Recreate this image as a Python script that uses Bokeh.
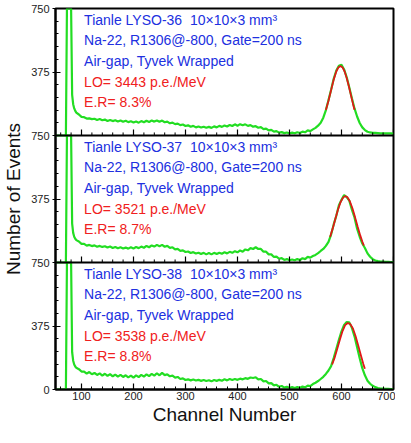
from bokeh.plotting import figure
from bokeh.models import Range1d, FixedTicker, Label, Span
from bokeh.embed import file_html
from bokeh.resources import INLINE

# ---------------- data ----------------
channels = [50, 60, 70, 72, 74, 76, 78, 80, 82, 84, 86, 88, 90] + list(range(95, 701, 5))

counts_lyso36 = [
    0, 0, 0, 900, 2000, 2000, 1600, 1100, 240, 185, 160, 145, 135,
    124, 110, 108, 100, 101, 97, 99, 92, 97, 90,
    94, 86, 92, 85, 90, 83, 89, 81, 87, 79,
    84, 77, 83, 76, 85, 78, 87, 80, 88, 82,
    89, 81, 88, 78, 82, 72, 76, 67, 70, 61,
    65, 56, 60, 52, 57, 48, 53, 47, 52, 46,
    51, 45, 54, 48, 57, 51, 59, 53, 62, 56,
    66, 58, 67, 60, 66, 57, 61, 52, 55, 46,
    49, 38, 41, 30, 33, 23, 26, 17, 20, 14,
    18, 12, 17, 13, 19, 15, 23, 19, 30, 26,
    36, 45, 58, 75, 105, 150, 210, 270, 335, 384,
    412, 418, 390, 344, 284, 220, 160, 112, 74, 48,
    32, 22, 18, 16, 15, 14, 13, 13, 12, 12,
    12, 11,
]
counts_lyso37 = [
    0, 0, 0, 800, 2000, 2000, 1500, 1000, 230, 175, 152, 140, 132,
    124, 110, 110, 100, 104, 97, 101, 93, 98, 92,
    96, 88, 94, 86, 92, 84, 90, 83, 88, 82,
    90, 83, 91, 85, 94, 87, 98, 90, 101, 94,
    104, 96, 104, 93, 98, 86, 90, 78, 80, 69,
    72, 62, 65, 56, 61, 53, 58, 50, 57, 48,
    56, 48, 57, 50, 58, 52, 60, 54, 63, 57,
    67, 60, 71, 64, 77, 72, 85, 80, 90, 80,
    80, 64, 64, 48, 48, 33, 35, 22, 26, 15,
    20, 13, 18, 13, 20, 15, 25, 20, 33, 29,
    38, 45, 55, 68, 80, 98, 122, 165, 225, 276,
    338, 370, 398, 386, 365, 312, 266, 200, 152, 112,
    86, 54, 34, 20, 12, 8, 6, 5, 4, 4,
    3, 3,
]
counts_lyso38 = [
    0, 0, 0, 850, 2000, 2000, 1400, 900, 220, 170, 148, 136, 128,
    120, 106, 106, 94, 103, 90, 98, 86, 95, 82,
    93, 80, 91, 78, 88, 76, 86, 74, 84, 72,
    82, 70, 83, 73, 86, 76, 89, 79, 92, 82,
    96, 84, 98, 85, 90, 78, 82, 70, 74, 62,
    66, 56, 60, 54, 59, 53, 57, 51, 56, 50,
    55, 48, 56, 51, 57, 52, 60, 54, 62, 56,
    62, 57, 64, 60, 67, 63, 71, 68, 72, 60,
    62, 48, 50, 36, 38, 24, 28, 16, 21, 11,
    16, 9, 14, 9, 14, 10, 17, 13, 23, 20,
    32, 40, 50, 62, 75, 92, 112, 138, 185, 239,
    294, 343, 381, 398, 396, 364, 314, 250, 184, 126,
    84, 52, 34, 22, 14, 9, 6, 5, 4, 4,
    3, 3,
]

fit_ch_lyso36 = [570, 575, 580, 585, 590, 594, 598, 602, 606, 610, 614, 618, 622, 625]
fit_lyso36 = [150, 205, 268, 330, 378, 402, 410, 402, 378, 340, 292, 240, 188, 152]
fit_ch_lyso37 = [578, 583, 588, 593, 598, 603, 607, 611, 616, 621, 626, 631, 636, 640, 643]
fit_lyso37 = [150, 200, 255, 310, 355, 383, 392, 387, 362, 320, 268, 212, 160, 124, 100]
fit_ch_lyso38 = [582, 587, 592, 597, 602, 607, 612, 617, 622, 627, 632, 637, 642, 645]
fit_lyso38 = [148, 190, 242, 295, 345, 380, 393, 386, 360, 316, 262, 205, 150, 122]

NB = "\u00a0"
text_lyso36 = ["Tianle LYSO-36" + NB + NB + "10\u00d710\u00d73 mm\u00b3", "Na-22, R1306@-800, Gate=200 ns",
               "Air-gap, Tyvek Wrapped", "LO= 3443 p.e./MeV", "E.R= 8.3%"]
text_lyso37 = ["Tianle LYSO-37" + NB + NB + "10\u00d710\u00d73 mm\u00b3", "Na-22, R1306@-800, Gate=200 ns",
               "Air-gap, Tyvek Wrapped", "LO= 3521 p.e./MeV", "E.R= 8.7%"]
text_lyso38 = ["Tianle LYSO-38" + NB + NB + "10\u00d710\u00d73 mm\u00b3", "Na-22, R1306@-800, Gate=200 ns",
               "Air-gap, Tyvek Wrapped", "LO= 3538 p.e./MeV", "E.R= 8.8%"]

x_ticks = [100, 200, 300, 400, 500, 600, 700]
x_minor = [v for v in range(60, 701, 20) if v % 100 != 0]
panel_max = 750
panel_ticks = [0, 375, 750]

# ---------------- styling ----------------
FONT = "Liberation Sans"
GREEN = "#22dd22"
RED = "#e01818"
BLUE = "#2030e0"
TXT_RED = "#f02020"

n_panels = 3
total = panel_max * n_panels

p = figure(width=395, height=427, x_range=Range1d(50, 700), y_range=Range1d(0, total),
           output_backend="svg", toolbar_location=None,
           min_border_left=52, min_border_right=2, min_border_top=8, min_border_bottom=0)
p.grid.visible = False
p.outline_line_color = "black"
p.outline_line_width = 2
p.background_fill_color = "white"

p.extra_y_ranges = {
    "p37": Range1d(-panel_max, total - panel_max),
    "p36": Range1d(-2 * panel_max, total - 2 * panel_max),
}
panels = [
    ("p36", counts_lyso36, fit_ch_lyso36, fit_lyso36, text_lyso36),
    ("p37", counts_lyso37, fit_ch_lyso37, fit_lyso37, text_lyso37),
    ("default", counts_lyso38, fit_ch_lyso38, fit_lyso38, text_lyso38),
]
text_y = [684, 563, 440, 318, 200]
text_colors = [BLUE, BLUE, BLUE, TXT_RED, TXT_RED]

for rname, counts, fch, fval, texts in panels:
    shown = [min(v, panel_max) for v in counts]
    p.line(channels, shown, line_color=GREEN, line_width=2.2, y_range_name=rname)
    p.line(fch, fval, line_color=RED, line_width=1.8, y_range_name=rname)
    for t, ty, c in zip(texts, text_y, text_colors):
        p.add_layout(Label(x=105, y=ty, text=t, y_range_name=rname, text_color=c,
                           text_font=FONT, text_font_size="14px", text_baseline="middle",
                           text_align="left"))

for k in range(1, n_panels):
    p.add_layout(Span(location=k * panel_max, dimension="width", line_color="black", line_width=2))
    p.segment(x0=x_ticks, y0=[k * panel_max] * len(x_ticks), x1=x_ticks,
              y1=[k * panel_max + 36] * len(x_ticks), line_color="black", line_width=1.2)
    p.segment(x0=x_minor, y0=[k * panel_max] * len(x_minor), x1=x_minor,
              y1=[k * panel_max + 18] * len(x_minor), line_color="black", line_width=1)

y_major = sorted(set(k * panel_max + t for k in range(n_panels) for t in panel_ticks))
y_minor = [v for v in range(75, total, 75) if v % 375 != 0]
p.yaxis.ticker = FixedTicker(ticks=y_major, minor_ticks=y_minor)
p.yaxis.major_label_overrides = {v: str(v % panel_max if v % panel_max else (panel_max if v else 0)) for v in y_major}
p.yaxis.axis_label = "Number of Events"

p.xaxis.ticker = FixedTicker(ticks=x_ticks, minor_ticks=x_minor)
p.xaxis.axis_label = "Channel Number"

for ax in (p.xaxis[0], p.yaxis[0]):
    ax.axis_line_width = 2
    ax.axis_line_color = "black"
    ax.major_label_text_font = FONT
    ax.major_label_text_font_size = "11px"
    ax.major_label_text_color = "#222222"
    ax.axis_label_text_font = FONT
    ax.axis_label_text_font_size = "19px"
    ax.axis_label_text_font_style = "normal"
    ax.axis_label_text_color = "#111111"
    ax.minor_tick_out = 0
    ax.major_tick_line_width = 1.2

p.xaxis.major_tick_in = 6
p.xaxis.major_tick_out = 0
p.xaxis.minor_tick_in = 3
p.xaxis.major_label_standoff = 2
p.xaxis.axis_label_standoff = 1

p.yaxis.major_tick_in = 5
p.yaxis.major_tick_out = 3
p.yaxis.minor_tick_in = 3
p.yaxis.major_label_standoff = 3
p.yaxis.axis_label_standoff = 4

open("out.html", "w").write(file_html(p, INLINE))
